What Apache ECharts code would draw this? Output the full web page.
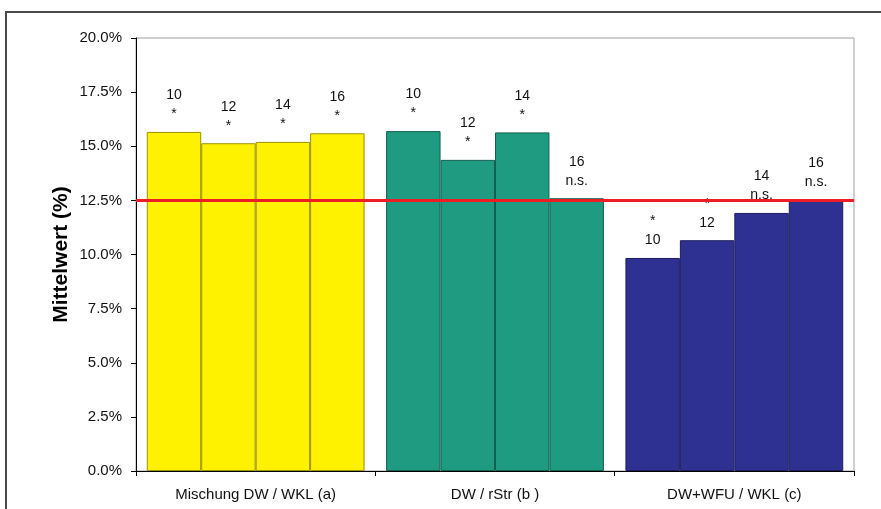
<!DOCTYPE html>
<html>
<head>
<meta charset="utf-8">
<script src="https://cdn.jsdelivr.net/npm/echarts@6/dist/echarts.min.js"></script>
<style>
  html, body { margin: 0; padding: 0; background: #fff; }
  #frame { position: absolute; left: 5px; top: 11px; width: 920px; height: 540px;
           border: 2px solid #4a4a4a; box-sizing: border-box; }
  #chart { position: absolute; left: 0; top: 0; width: 881px; height: 509px; }
</style>
</head>
<body>
<div id="frame"></div>
<div id="chart"></div>
<script>
// Treatment groups on the x axis
const categories = ['Mischung DW / WKL (a)', 'DW / rStr (b )', 'DW+WFU / WKL (c)'];
// One series per sampling step; values are mean percentages per group
const seriesNames = ['10', '12', '14', '16'];
const values10 = [15.66, 15.70, 9.84];
const values12 = [15.14, 14.37, 10.66];
const values14 = [15.20, 15.64, 11.92];
const values16 = [15.60, 12.60, 12.52];
// Significance marks per bar
const sig10 = ['*', '*', '*'];
const sig12 = ['*', '*', '*'];
const sig14 = ['*', '*', 'n.s.'];
const sig16 = ['*', 'n.s.', 'n.s.'];
// Reference level drawn as horizontal line
const referenceLevel = 12.5;
// Y axis ticks
const yMin = 0, yMax = 20, yStep = 2.5;

const allValues = [values10, values12, values14, values16];
const allSig = [sig10, sig12, sig14, sig16];

const groupFill = ['#fff200', '#1f9b82', '#2e3192'];
const groupEdge = ['#9a9200', '#145f4f', '#1c1e5c'];
const FONT = '"Liberation Sans", Arial, sans-serif';

const chart = echarts.init(document.getElementById('chart'), null, { renderer: 'canvas' });

const series = seriesNames.map((name, si) => {
  const s = {
    name: name,
    type: 'bar',
    barGap: '0%',
    barCategoryGap: '9%',
    data: allValues[si].map((v, ci) => ({
      value: v,
      itemStyle: { color: groupFill[ci], borderColor: groupEdge[ci], borderWidth: 1 }
    })),
    label: {
      show: true,
      position: 'top',
      distance: 8,
      color: '#111',
      fontFamily: FONT,
      fontSize: 14,
      lineHeight: 19,
      formatter: (p) => {
        const mark = allSig[p.seriesIndex][p.dataIndex];
        // in the last group the star sits above the step number
        if (p.dataIndex === 2 && mark === '*') return mark + '\n' + p.seriesName;
        return p.seriesName + '\n' + mark;
      }
    }
  };
  if (si === 3) {
    s.markLine = {
      silent: true,
      symbol: 'none',
      label: { show: false },
      lineStyle: { color: '#ee1c25', width: 3, type: 'solid' },
      data: [{ yAxis: referenceLevel }],
      z: 10
    };
  }
  return s;
});

chart.setOption({
  animation: false,
  backgroundColor: 'transparent',
  grid: {
    left: 136, right: 27, top: 38, bottom: 38,
    show: true, borderColor: '#a0a0a0', borderWidth: 1, backgroundColor: 'transparent'
  },
  xAxis: {
    type: 'category',
    data: categories,
    axisLine: { lineStyle: { color: '#000', width: 1 } },
    axisTick: { show: true, length: 5, lineStyle: { color: '#000' } },
    axisLabel: { color: '#111', fontFamily: FONT, fontSize: 15, margin: 16 }
  },
  yAxis: {
    type: 'value',
    min: yMin, max: yMax, interval: yStep,
    name: 'Mittelwert (%)',
    nameLocation: 'middle',
    nameGap: 64,
    nameMoveOverlap: false,
    nameRotate: 90,
    nameTextStyle: { fontFamily: FONT, fontWeight: 'bold', fontSize: 21, color: '#000' },
    axisLine: { show: true, lineStyle: { color: '#000', width: 1 } },
    axisTick: { show: true, length: 5, lineStyle: { color: '#000' } },
    splitLine: { show: false },
    axisLabel: {
      color: '#111', fontFamily: FONT, fontSize: 15, margin: 14,
      formatter: (v) => v.toFixed(1) + '%'
    }
  },
  series: series
});
</script>
</body>
</html>
